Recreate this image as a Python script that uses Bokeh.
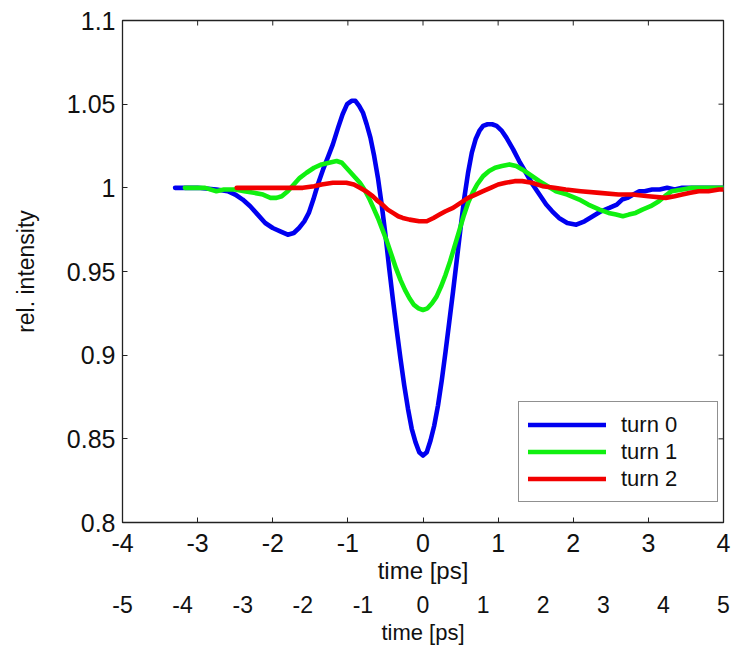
import math
from bokeh.plotting import figure
from bokeh.models import LinearAxis, Range1d, FixedTicker, Legend, LegendItem
from bokeh.embed import file_html
from bokeh.resources import INLINE

# ---- data ----
t_turn0 = [-3.3, -3.0, -2.75, -2.6, -2.5, -2.4, -2.3, -2.2, -2.1, -2.0, -1.9, -1.8, -1.72, -1.65,
           -1.58, -1.52, -1.46, -1.4, -1.33, -1.26, -1.2, -1.13, -1.07, -1.01, -0.95, -0.9, -0.85,
           -0.8, -0.75, -0.7, -0.65, -0.6, -0.55, -0.5, -0.45, -0.4, -0.35, -0.3, -0.25, -0.2,
           -0.15, -0.1, -0.05, 0.0, 0.05, 0.1, 0.15, 0.2, 0.25, 0.3, 0.35, 0.4, 0.45, 0.5, 0.55,
           0.6, 0.65, 0.7, 0.75, 0.8, 0.86, 0.92, 0.98, 1.05, 1.11, 1.2, 1.28, 1.37, 1.46, 1.55,
           1.64, 1.72, 1.81, 1.92, 2.04, 2.15, 2.26, 2.37, 2.48, 2.58, 2.65, 2.72, 2.8, 2.88,
           2.95, 3.05, 3.15, 3.25, 3.35, 3.45, 3.6, 3.8, 4.0]
y_turn0 = [1.000, 1.000, 0.999, 0.998, 0.996, 0.993, 0.989, 0.984, 0.979, 0.976, 0.974, 0.972, 0.973, 0.976,
           0.980, 0.985, 0.993, 1.002, 1.011, 1.019, 1.026, 1.036, 1.044, 1.050, 1.052, 1.052, 1.049,
           1.045, 1.038, 1.030, 1.019, 1.006, 0.990, 0.972, 0.952, 0.933, 0.915, 0.898, 0.882, 0.868,
           0.856, 0.848, 0.842, 0.840, 0.842, 0.849, 0.858, 0.870, 0.885, 0.902, 0.920, 0.938, 0.957, 0.976, 0.994,
           1.009, 1.021, 1.029, 1.034, 1.037, 1.038, 1.038, 1.037, 1.034, 1.030, 1.023, 1.016, 1.009, 1.002, 0.996,
           0.990, 0.986, 0.982, 0.979, 0.978, 0.980, 0.983, 0.986, 0.988, 0.990, 0.993, 0.994, 0.996, 0.998,
           0.998, 0.999, 0.999, 1.000, 0.999, 1.000, 1.000, 1.000, 1.000]

t_turn1 = [-3.17, -2.9, -2.75, -2.65, -2.5, -2.38, -2.25, -2.13, -2.03, -1.95, -1.88, -1.8, -1.72,
           -1.64, -1.55, -1.45, -1.35, -1.25, -1.15, -1.08, -1.02, -0.96, -0.9, -0.84, -0.78, -0.72,
           -0.66, -0.6, -0.54, -0.48, -0.42, -0.36, -0.3, -0.24, -0.18, -0.12, -0.06, 0.0, 0.06,
           0.12, 0.18, 0.24, 0.3, 0.36, 0.42, 0.48, 0.54, 0.6, 0.66, 0.72, 0.8, 0.88, 0.96, 1.05,
           1.15, 1.24, 1.32, 1.42, 1.55, 1.66, 1.77, 1.92, 2.08, 2.2, 2.35, 2.47, 2.57, 2.66, 2.74,
           2.83, 2.92, 3.03, 3.14, 3.22, 3.31, 3.45, 3.58, 3.8, 4.0]
y_turn1 = [1.000, 1.000, 0.998, 0.999, 0.999, 0.998, 0.997, 0.996, 0.994, 0.994, 0.995, 0.998, 1.002,
           1.006, 1.009, 1.012, 1.014, 1.015, 1.016, 1.015, 1.012, 1.009, 1.006, 1.003, 0.999, 0.994,
           0.988, 0.982, 0.975, 0.968, 0.960, 0.952, 0.945, 0.939, 0.934, 0.930, 0.928, 0.927, 0.928,
           0.931, 0.935, 0.941, 0.948, 0.956, 0.965, 0.974, 0.983, 0.991, 0.997, 1.002, 1.007, 1.010, 1.012, 1.013,
           1.014, 1.013, 1.011, 1.008, 1.004, 1.001, 0.998, 0.996, 0.993, 0.990, 0.987, 0.985, 0.984, 0.983, 0.984,
           0.985, 0.987, 0.989, 0.992, 0.995, 0.998, 0.999, 1.000, 1.000, 1.000]

t_turn2 = [-2.48, -2.0, -1.6, -1.45, -1.35, -1.2, -1.02, -0.92, -0.84, -0.76, -0.67, -0.6, -0.54,
           -0.47, -0.4, -0.33, -0.27, -0.18, -0.05, 0.05, 0.14, 0.22, 0.3, 0.4, 0.5, 0.6, 0.7,
           0.8, 0.9, 1.0, 1.1, 1.22, 1.32, 1.45, 1.59, 1.75, 1.9, 2.1, 2.35, 2.6, 2.79, 3.0,
           3.23, 3.35, 3.45, 3.56, 3.67, 3.8, 3.94, 4.0]
y_turn2 = [1.000, 1.000, 1.000, 1.001, 1.002, 1.003, 1.003, 1.002, 1.000, 0.998, 0.995, 0.992, 0.990,
           0.987, 0.985, 0.983, 0.982, 0.981, 0.980, 0.980, 0.982, 0.984, 0.986, 0.988, 0.991, 0.994, 0.996,
           0.998, 1.000, 1.002, 1.003, 1.004, 1.004, 1.003, 1.001, 1.000, 0.999, 0.998, 0.997, 0.996, 0.996, 0.995,
           0.994, 0.995, 0.996, 0.997, 0.998, 0.998, 0.999, 0.999]

series_names = ["turn 0", "turn 1", "turn 2"]
series_colors = ["#0000F0", "#10F010", "#F20000"]

x_ticks = [-4, -3, -2, -1, 0, 1, 2, 3, 4]
x_tick_labels = ["-4", "-3", "-2", "-1", "0", "1", "2", "3", "4"]
x2_ticks = [-5, -4, -3, -2, -1, 0, 1, 2, 3, 4, 5]
x2_tick_labels = ["-5", "-4", "-3", "-2", "-1", "0", "1", "2", "3", "4", "5"]
y_ticks = [0.8, 0.85, 0.9, 0.95, 1.0, 1.05, 1.1]
y_tick_labels = ["0.8", "0.85", "0.9", "0.95", "1", "1.05", "1.1"]

FONT = "Liberation Sans"
AX = "#222222"
TXT = "#111111"

p = figure(frame_width=601, frame_height=502,
           x_range=Range1d(x_ticks[0], x_ticks[-1]), y_range=Range1d(y_ticks[0], y_ticks[-1]),
           output_backend="svg", toolbar_location=None,
           min_border_left=122, min_border_right=8, min_border_top=20, min_border_bottom=123)
p.background_fill_color = "white"
p.border_fill_color = "white"
p.outline_line_color = AX
p.outline_line_width = 1.3
p.xgrid.visible = False
p.ygrid.visible = False

# primary x axis
xa = p.xaxis[0]
xa.ticker = FixedTicker(ticks=x_ticks)
xa.major_label_overrides = {t: s for t, s in zip(x_ticks, x_tick_labels)}
xa.axis_label = "time [ps]"
xa.major_tick_in = 5
xa.major_tick_out = 0
xa.minor_tick_line_color = None
xa.axis_line_color = AX
xa.major_tick_line_color = AX
xa.major_label_text_font = FONT
xa.major_label_text_font_size = "25px"
xa.major_label_text_color = TXT
xa.major_label_standoff = 11
xa.axis_label_text_font = FONT
xa.axis_label_text_font_size = "24px"
xa.axis_label_text_font_style = "normal"
xa.axis_label_text_color = TXT
xa.axis_label_standoff = 2

# y axis
ya = p.yaxis[0]
ya.ticker = FixedTicker(ticks=y_ticks)
ya.major_label_overrides = {t: s for t, s in zip(y_ticks, y_tick_labels)}
ya.axis_label = "rel. intensity"
ya.major_tick_in = 5
ya.major_tick_out = 0
ya.minor_tick_line_color = None
ya.axis_line_color = AX
ya.major_tick_line_color = AX
ya.major_label_text_font = FONT
ya.major_label_text_font_size = "25px"
ya.major_label_text_color = TXT
ya.major_label_standoff = 7
ya.axis_label_text_font = FONT
ya.axis_label_text_font_size = "23px"
ya.axis_label_text_font_style = "normal"
ya.axis_label_text_color = TXT
ya.axis_label_standoff = 25

# secondary x axis below
p.extra_x_ranges = {"x2": Range1d(x2_ticks[0], x2_ticks[-1])}
ax2 = LinearAxis(x_range_name="x2", ticker=FixedTicker(ticks=x2_ticks), axis_label="time [ps]",
                 major_label_overrides={t: s for t, s in zip(x2_ticks, x2_tick_labels)},
                 axis_line_color=None, major_tick_line_color=None, minor_tick_line_color=None,
                 major_tick_in=0, major_tick_out=0,
                 major_label_text_font=FONT, major_label_text_font_size="23px",
                 major_label_text_color=TXT, major_label_standoff=9,
                 axis_label_text_font=FONT, axis_label_text_font_size="22px",
                 axis_label_text_font_style="normal", axis_label_text_color=TXT,
                 axis_label_standoff=4)
p.add_layout(ax2, "below")

# inward tick marks on the top and right edges of the box
p.scatter(x=x_ticks, y=[y_ticks[-1]] * len(x_ticks), marker="dash", size=10, angle=math.pi / 2,
          line_color=AX, line_width=1)
p.scatter(x=[x_ticks[-1]] * len(y_ticks), y=y_ticks, marker="dash", size=10,
          line_color=AX, line_width=1)

renderers = []
for t, y, c in zip([t_turn0, t_turn1, t_turn2], [y_turn0, y_turn1, y_turn2], series_colors):
    r = p.line(t, y, line_color=c, line_width=4.6, line_join="round", line_cap="round")
    renderers.append(r)

legend = Legend(items=[LegendItem(label=n, renderers=[r]) for n, r in zip(series_names, renderers)],
                location=(396, 20))
legend.border_line_color = AX
legend.border_line_width = 1
legend.background_fill_color = "white"
legend.background_fill_alpha = 1
legend.label_text_font = FONT
legend.label_text_font_size = "22px"
legend.label_text_color = TXT
legend.glyph_width = 78
legend.glyph_height = 27
legend.label_height = 27
legend.label_width = 87
legend.label_standoff = 15
legend.spacing = 0
legend.padding = 9
legend.margin = 0
p.add_layout(legend)

open("out.html", "w").write(file_html(p, INLINE))
